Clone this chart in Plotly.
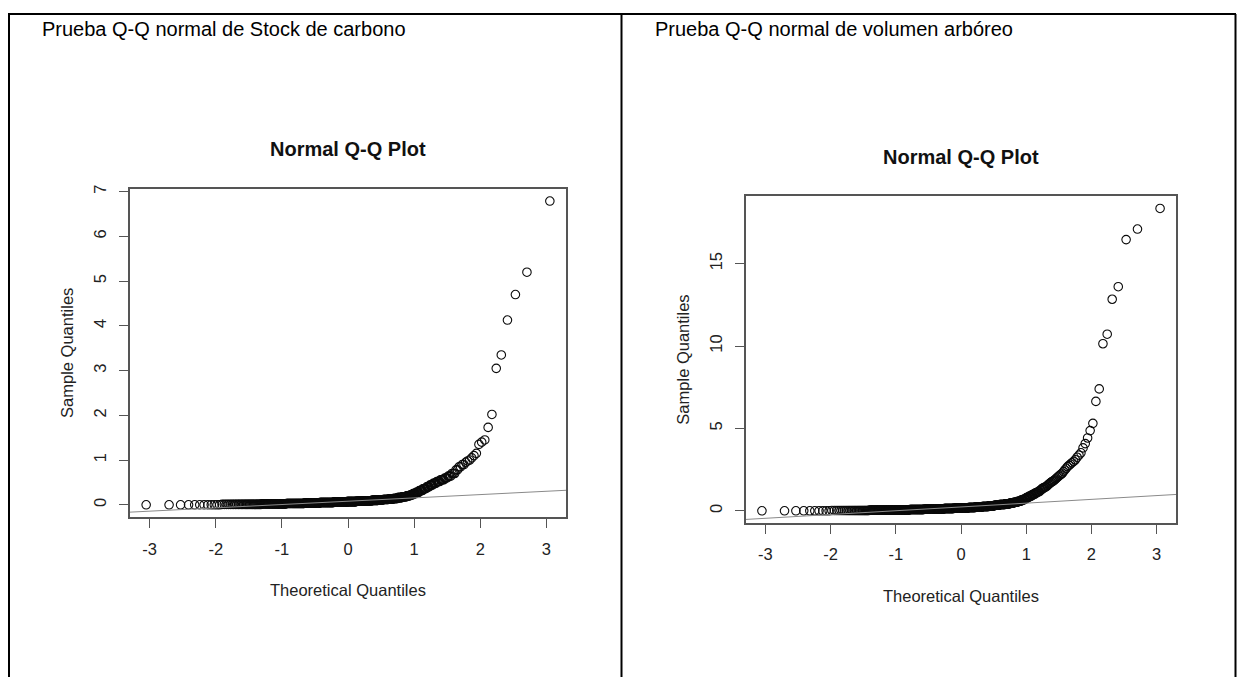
import numpy as np
import plotly.graph_objects as go
from statistics import NormalDist

# ---------------- data (sorted sample values, with counts) -------------
carbono_values = [0.00, 0.01, 0.02, 0.03, 0.04, 0.05, 0.06, 0.07, 0.08, 0.09, 0.10, 0.11, 0.12,
                  0.13, 0.14, 0.16, 0.18, 0.20, 0.22, 0.25, 0.28, 0.32, 0.36, 0.40, 0.44, 0.48,
                  0.52, 0.56, 0.60, 0.64, 0.70, 0.78, 0.85, 0.90, 0.95, 0.98, 1.00, 1.05, 1.10,
                  1.15, 1.35, 1.40, 1.45, 1.73, 2.02, 3.05, 3.35, 4.13, 4.70, 5.20, 6.79]
carbono_counts = [12, 30, 35, 35, 35, 35, 35, 25, 20, 20, 15, 12, 12,
                  10, 9, 9, 8, 6, 5, 5, 5, 5, 5, 4, 4, 4,
                  4, 4, 3, 3, 3, 2, 2, 2, 1, 1, 1, 1, 1,
                  1, 1, 1, 1, 1, 1, 1, 1, 1, 1, 1, 1]

volumen_values = [0.00, 0.02, 0.04, 0.06, 0.08, 0.10, 0.12, 0.14, 0.16, 0.18, 0.20, 0.23, 0.26,
                  0.30, 0.34, 0.38, 0.42, 0.47, 0.52, 0.58, 0.65, 0.72, 0.80, 0.88, 0.95, 1.02,
                  1.10, 1.16, 1.25, 1.33, 1.40, 1.45, 1.50, 1.55, 1.60, 1.65, 1.70, 1.74, 1.78,
                  1.82, 1.86, 1.92, 1.98, 2.04, 2.10, 2.16, 2.22, 2.28, 2.38, 2.48, 2.58, 2.68,
                  2.76, 2.84, 2.92, 3.00, 3.10, 3.25, 3.38, 3.52, 3.82, 4.08, 4.42, 4.87, 5.31,
                  6.64, 7.40, 10.14, 10.72, 12.84, 13.60, 16.46, 17.10, 18.35]
volumen_counts = [10, 25, 30, 30, 30, 25, 25, 25, 20, 20, 18, 18, 16,
                  14, 12, 12, 10, 8, 7, 6, 5, 4, 4, 4, 3, 3,
                  3, 3, 2, 2, 2, 2, 1, 1, 1, 1, 1, 1, 1,
                  1, 1, 1, 1, 1, 1, 1, 1, 1, 1, 1, 1, 1,
                  1, 1, 1, 1, 1, 1, 1, 1, 1, 1, 1, 1, 1,
                  1, 1, 1, 1, 1, 1, 1, 1, 1]

x_tick_values = [-3, -2, -1, 0, 1, 2, 3]
carbono_y_ticks = [0, 1, 2, 3, 4, 5, 6, 7]
volumen_y_ticks = [0, 5, 10, 15]

heading_left = "Prueba Q-Q normal de Stock de carbono"
heading_right = "Prueba Q-Q normal de volumen arbóreo"
plot_title = "Normal Q-Q Plot"
x_title = "Theoretical Quantiles"
y_title = "Sample Quantiles"

# ---------------- helpers -------------
W, H = 1244, 677
nd = NormalDist()


def px(x):
    return x / W


def py(y):
    return 1 - y / H


def qq(values, counts):
    y = np.sort(np.repeat(np.array(values, dtype=float), counts))
    n = len(y)
    a = 3 / 8 if n <= 10 else 0.5
    p = (np.arange(1, n + 1) - a) / (n + 1 - 2 * a)
    x = np.array([nd.inv_cdf(float(v)) for v in p])
    return x, y


def qqline(y):
    q1, q3 = np.quantile(y, [0.25, 0.75])
    z1, z3 = nd.inv_cdf(0.25), nd.inv_cdf(0.75)
    slope = (q3 - q1) / (z3 - z1)
    return slope, q1 - slope * z1


def rrange(v):
    lo, hi = float(np.min(v)), float(np.max(v))
    d = hi - lo
    return [lo - 0.04 * d, hi + 0.04 * d]


FONT = "Liberation Sans, Arial, sans-serif"
FRAME = "#555555"

fig = go.Figure()

panels = [
    dict(values=carbono_values, counts=carbono_counts, yticks=carbono_y_ticks,
         xs="x", ys="y", frame=(130, 566, 186, 516)),
    dict(values=volumen_values, counts=volumen_counts, yticks=volumen_y_ticks,
         xs="x2", ys="y2", frame=(746, 1176, 193.5, 522)),
]

annotations = []
for i, p in enumerate(panels):
    x, y = qq(p["values"], p["counts"])
    xr, yr = rrange(x), rrange(y)
    slope, icpt = qqline(y)
    fig.add_trace(go.Scatter(
        x=x, y=y, mode="markers", xaxis=p["xs"], yaxis=p["ys"],
        marker=dict(symbol="circle-open", size=8.5, color="#0a0a0a",
                    line=dict(width=1.1, color="#0a0a0a")),
        showlegend=False, hoverinfo="skip"))
    lx = np.array(xr)
    fig.add_trace(go.Scatter(
        x=lx, y=icpt + slope * lx, mode="lines", xaxis=p["xs"], yaxis=p["ys"],
        line=dict(color="#8a8a8a", width=1), showlegend=False, hoverinfo="skip"))

    l, r, t, b = p["frame"]
    sfx = "" if i == 0 else "2"
    common = dict(showline=True, mirror=True, linecolor=FRAME, linewidth=1.5,
                  ticks="outside", ticklen=9, tickwidth=1, tickcolor=FRAME,
                  showgrid=False, zeroline=False,
                  tickfont=dict(family=FONT, size=16.5, color="#222222"))
    fig.update_layout(**{
        "xaxis" + sfx: dict(domain=[px(l), px(r)], range=xr, tickmode="array",
                            tickvals=x_tick_values,
                            ticktext=[str(v) for v in x_tick_values],
                            ticklabelstandoff=7,
                            anchor="y" + sfx, **common),
        "yaxis" + sfx: dict(domain=[py(b), py(t)], range=yr, tickmode="array",
                            tickvals=p["yticks"], ticktext=[str(v) for v in p["yticks"]],
                            tickangle=-90, ticklabelstandoff=7,
                            anchor="x" + sfx, **common),
    })
    cx = (l + r) / 2
    cy = (t + b) / 2
    annotations += [
        dict(text="<b>" + plot_title + "</b>", x=px(cx), y=py(t - 40), xref="paper", yref="paper",
             xanchor="center", yanchor="middle", showarrow=False,
             font=dict(family=FONT, size=20, color="#111111")),
        dict(text=x_title, x=px(cx), y=py(b + 73.5), xref="paper", yref="paper",
             xanchor="center", yanchor="middle", showarrow=False,
             font=dict(family=FONT, size=16.5, color="#222222")),
        dict(text=y_title, x=px(l - 63), y=py(cy), xref="paper", yref="paper",
             xanchor="center", yanchor="middle", showarrow=False, textangle=-90,
             font=dict(family=FONT, size=16.5, color="#222222")),
    ]

annotations += [
    dict(text=heading_left, x=px(40), y=py(25.5), xref="paper", yref="paper",
         xanchor="left", yanchor="middle", showarrow=False,
         font=dict(family=FONT, size=20, color="#000000")),
    dict(text=heading_right, x=px(653), y=py(25.5), xref="paper", yref="paper",
         xanchor="left", yanchor="middle", showarrow=False,
         font=dict(family=FONT, size=20, color="#000000")),
]

# table borders of the document cell layout
border = dict(color="#000000", width=2)
shapes = [
    dict(type="line", xref="paper", yref="paper", x0=px(8), x1=px(1236), y0=py(10), y1=py(10), line=border),
    dict(type="line", xref="paper", yref="paper", x0=px(9), x1=px(9), y0=py(10), y1=0, line=border),
    dict(type="line", xref="paper", yref="paper", x0=px(621.5), x1=px(621.5), y0=py(10), y1=0, line=border),
    dict(type="line", xref="paper", yref="paper", x0=px(1235.5), x1=px(1235.5), y0=py(10), y1=0, line=border),
]

fig.update_layout(width=W, height=H, margin=dict(l=0, r=0, t=0, b=0),
                  paper_bgcolor="white", plot_bgcolor="white",
                  annotations=annotations, shapes=shapes, showlegend=False)

fig.write_html("out.html")
